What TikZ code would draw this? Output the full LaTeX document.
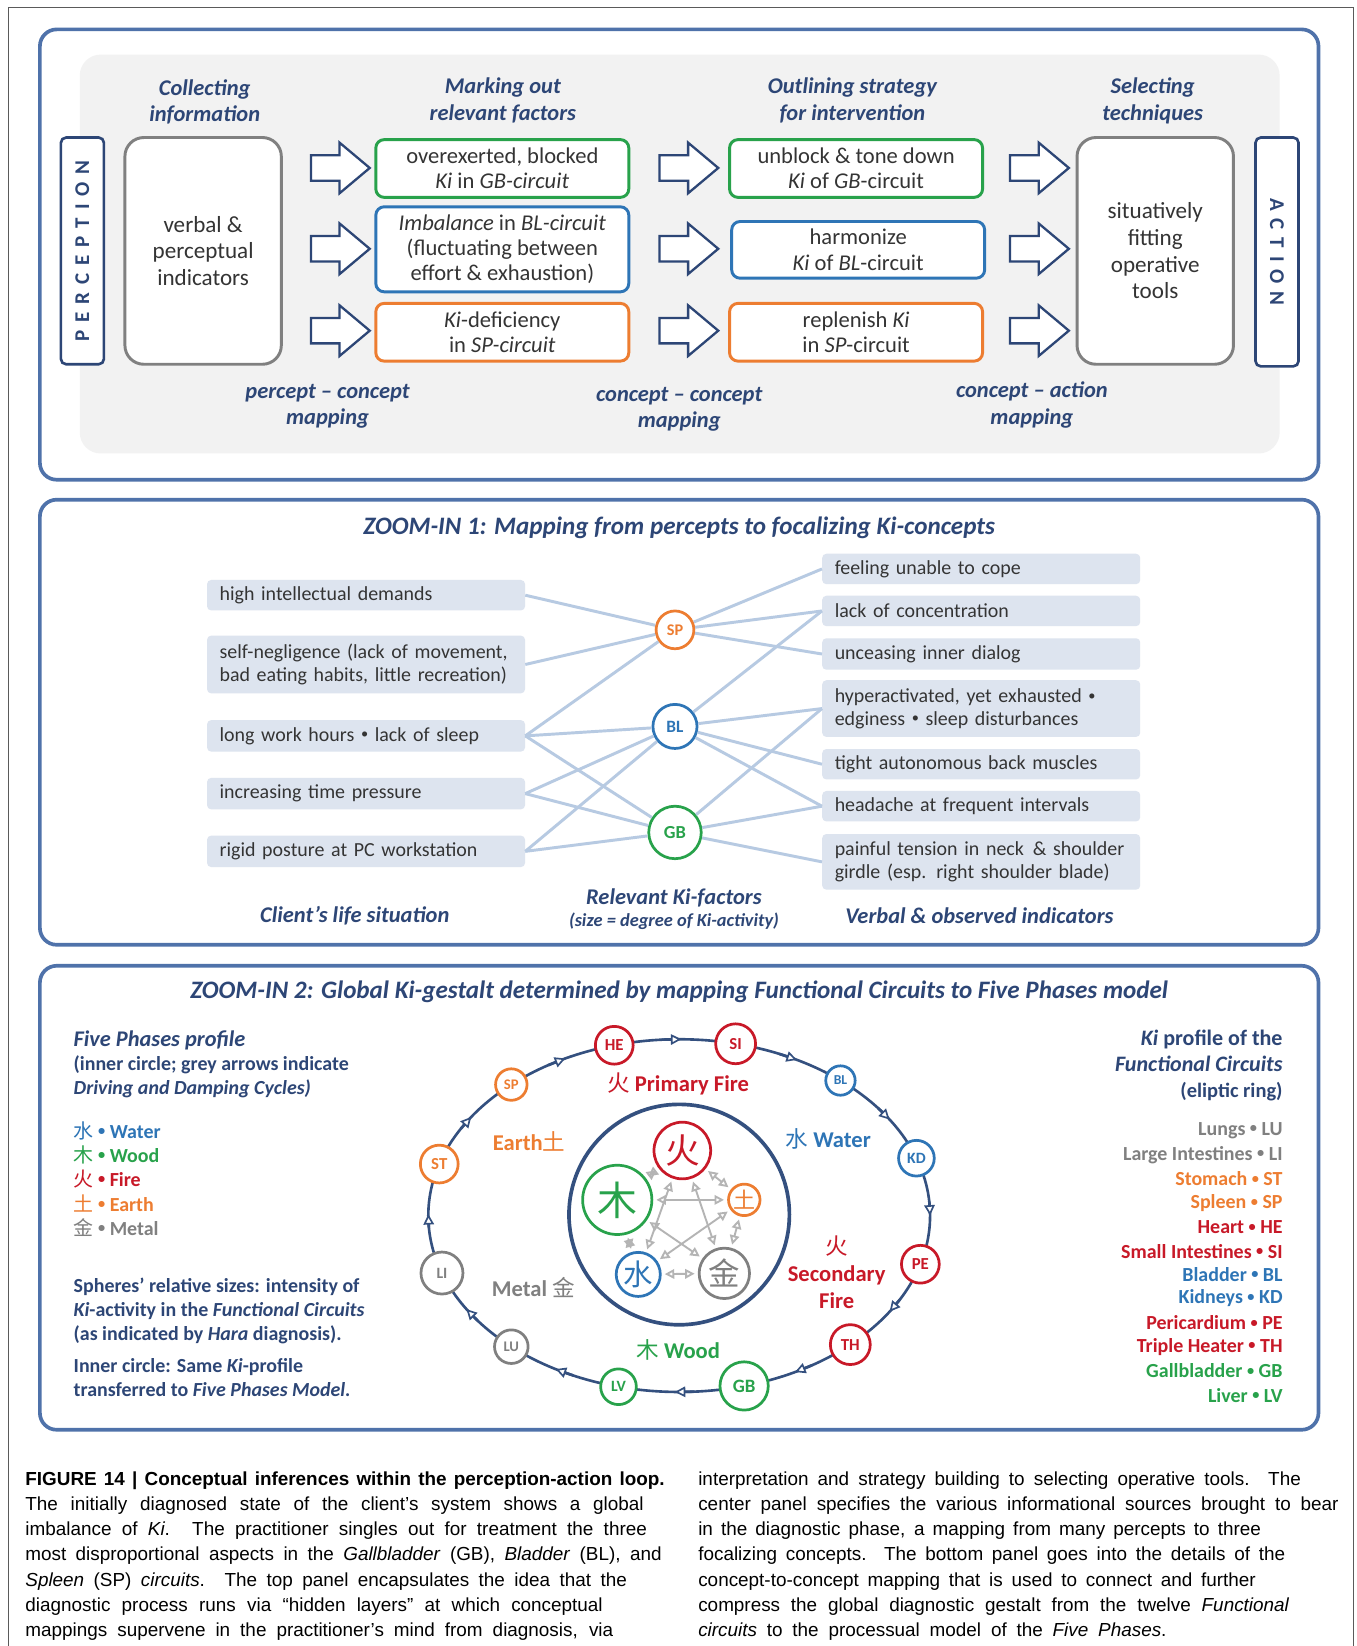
\documentclass[tikz,border=0pt]{standalone}
\usepackage{fontspec}
\setmainfont{Carlito}
\newfontfamily\cjk{Noto Sans CJK SC}
\newfontfamily\capfont{Liberation Sans}
\usetikzlibrary{shapes.arrows,arrows.meta}
\definecolor{panelblue}{RGB}{79,114,170}
\definecolor{navy}{RGB}{45,70,118}
\definecolor{txtgray}{RGB}{52,52,52}
\definecolor{bggray}{RGB}{242,242,242}
\definecolor{boxfill}{RGB}{221,228,239}
\definecolor{linkc}{RGB}{183,202,226}
\definecolor{cred}{RGB}{200,25,40}
\definecolor{corange}{RGB}{237,125,49}
\definecolor{cblue}{RGB}{46,117,182}
\definecolor{cgreen}{RGB}{40,162,75}
\definecolor{cgray}{RGB}{128,128,128}
\definecolor{ringc}{RGB}{52,80,127}
\definecolor{arrgray}{RGB}{180,180,180}
\definecolor{framegray}{RGB}{90,90,90}
\newcommand\fs[2]{\fontsize{#1}{#2}\selectfont}
\newcommand\zh[1]{{\cjk\mdseries\upshape #1}}
\newcommand\ls{\hspace{7.5pt}}
\newcommand\bul{\raisebox{0.12em}{\scalebox{0.72}{\textbullet}}}
\newcommand\capl[5]{\node[anchor=base west, inner sep=0pt, font=\capfont\fs{18}{24}] (#1) at (#2,#3) {\makebox[#4pt][s]{#5}};}
\tikzset{
  panel/.style={draw=panelblue, line width=3.5pt, rounded corners=16pt},
  colhead/.style={font=\fs{21.4}{25.5}\bfseries\itshape, text=navy, align=center, inner sep=0pt},
  tbox/.style={draw=#1, line width=2.8pt, rounded corners=8pt, fill=white, text=txtgray, align=center, font=\fs{21.5}{24}, minimum width=241pt, inner sep=0pt},
  sidebox/.style={draw=navy, line width=2.5pt, rounded corners=5pt, fill=white, inner sep=0pt, text=navy, font=\fs{20}{20}\bfseries},
  bigbox/.style={draw=cgray, line width=2.8pt, rounded corners=18pt, fill=white, minimum width=149pt, minimum height=216pt, text=txtgray, align=center, font=\fs{22}{25.5}, inner sep=0pt},
  barrow/.style={single arrow, draw=navy, line width=2.2pt, fill=white, minimum height=56pt, inner xsep=0pt, inner ysep=11pt, single arrow head extend=12pt, single arrow tip angle=80},
  lbox/.style={fill=boxfill, rounded corners=4pt, text width=279pt, inner xsep=12pt, inner ysep=0pt, align=left, text=txtgray, font=\fs{19}{21.5}, anchor=west},
  kcirc/.style={circle, draw=#1, text=#1, line width=2.6pt, fill=white, inner sep=0pt, font=\fs{15.5}{15.5}\bfseries},
  lnk/.style={draw=linkc, line width=2.8pt},
  ztitle/.style={font=\fs{23.9}{27}\bfseries\itshape, text=navy, inner sep=0pt},
  leg/.style={anchor=west, inner sep=0pt, font=\fs{19}{23}\bfseries, align=left},
  legr/.style={anchor=east, inner sep=0pt, font=\fs{19}{22.9}\bfseries, align=right},
  ringpath/.style={draw=ringc, line width=2.5pt},
  rtip/.style={-{Triangle[length=10pt,width=10pt,fill=white,line width=1.6pt]}},
  rnode/.style={circle, draw=#1, text=#1, line width=2.6pt, fill=white, inner sep=0pt},
  garr/.style={draw=arrgray, line width=1.8pt, {Triangle[open,length=9pt,width=9pt]}-{Triangle[open,length=9pt,width=9pt]}, shorten <=3pt, shorten >=3pt},
  ringlab/.style={font=\fs{21.5}{25.5}\bfseries, align=center, inner sep=0pt},
}
\begin{document}
\begin{tikzpicture}[x=1pt,y=-1pt]
\useasboundingbox (0,0) rectangle (1292,1568);
\fill[white] (0,0) rectangle (1292,1568);
\draw[line width=1pt, framegray] (8,1568) -- (8,7.5) -- (1289,7.5) -- (1289,1568);

% ===== Panel 1 =====
\draw[panel] (38,28) rectangle (1256,457);
\fill[bggray, rounded corners=20pt] (76,52) rectangle (1219,432);

\node[colhead] (h1) at (195,97) {Collecting\\information};
\node[colhead] (h2) at (479,96) {Marking out\\relevant factors};
\node[colhead] (h3) at (812,96) {Outlining strategy\\for intervention};
\node[colhead] (h4) at (1098,96) {Selecting\\techniques};

\node[sidebox, rotate=90, minimum width=216pt, minimum height=41pt] (perc) at (78.5,239) {P\ls E\ls R\ls C\ls E\ls P\ls T\ls I\ls O\ls N};
\node[sidebox, rotate=-90, minimum width=218pt, minimum height=41pt] (act) at (1216.5,240) {A\ls C\ls T\ls I\ls O\ls N};

\node[bigbox] (verb) at (193.5,239) {verbal \&\\perceptual\\indicators};
\node[bigbox] (situ) at (1100.5,239) {situatively\\fitting\\operative\\tools};

\node[tbox=cgreen, minimum height=55pt] (g1) at (478.5,160.5) {overexerted, blocked\\\textit{Ki} in \textit{GB-circuit}};
\node[tbox=cblue, minimum height=81pt] (b1) at (478.5,237.5) {\textit{Imbalance} in \textit{BL-circuit}\\(fluctuating between\\effort \& exhaustion)};
\node[tbox=corange, minimum height=55pt] (o1) at (478.5,316.5) {\textit{Ki}-deficiency\\in \textit{SP-circuit}};
\node[tbox=cgreen, minimum height=55pt] (g2) at (815.5,160.5) {unblock \& tone down\\\textit{Ki} of \textit{GB}-circuit};
\node[tbox=cblue, minimum height=54pt] (b2) at (817.5,238) {harmonize\\\textit{Ki} of \textit{BL}-circuit};
\node[tbox=corange, minimum height=55pt] (o2) at (815.5,316.5) {replenish \textit{Ki}\\in \textit{SP}-circuit};

\node[barrow] (a11) at (317,160) {};
\node[barrow] (a12) at (317,237) {};
\node[barrow] (a13) at (317,315) {};
\node[barrow] (a21) at (649,160) {};
\node[barrow] (a22) at (649,237) {};
\node[barrow] (a23) at (649,315) {};
\node[barrow] (a31) at (983,160) {};
\node[barrow] (a32) at (983,237) {};
\node[barrow] (a33) at (983,315) {};

\node[colhead] (m1) at (312,387) {percept -- concept\\mapping};
\node[colhead] (m2) at (647,390) {concept -- concept\\mapping};
\node[colhead] (m3) at (983,386) {concept -- action\\mapping};

% ===== Panel 2 =====
\draw[panel] (38,476) rectangle (1256,900);
\node[ztitle] (t1) at (647,503) {ZOOM-IN 1: Mapping from percepts to focalizing Ki-concepts};

\node[lbox, minimum height=29pt] (l1) at (197,567) {high intellectual demands};
\node[lbox, minimum height=55pt] (l2) at (197,633) {\mbox{self-negligence (lack of movement,}\\\mbox{bad eating habits, little recreation)}};
\node[lbox, minimum height=30pt] (l3) at (197,701) {long work hours \bul\ lack of sleep};
\node[lbox, minimum height=30pt] (l4) at (197,756) {increasing time pressure};
\node[lbox, minimum height=30pt] (l5) at (197,811) {rigid posture at PC workstation};

\node[lbox, minimum height=29pt] (r1) at (783,542) {feeling unable to cope};
\node[lbox, minimum height=29pt] (r2) at (783,582) {lack of concentration};
\node[lbox, minimum height=30pt] (r3) at (783,623) {unceasing inner dialog};
\node[lbox, minimum height=54pt] (r4) at (783,675) {\mbox{hyperactivated, yet exhausted \bul}\\\mbox{edginess \bul\ sleep disturbances}};
\node[lbox, minimum height=29pt] (r5) at (783,728) {tight autonomous back muscles};
\node[lbox, minimum height=29pt] (r6) at (783,768) {headache at frequent intervals};
\node[lbox, minimum height=53pt] (r7) at (783,821) {\mbox{painful tension in neck\hspace{0.45em}\& shoulder}\\\mbox{girdle (esp. right shoulder blade)}};

\node[kcirc=corange, minimum size=36pt] (mSP) at (643,600) {SP};
\node[kcirc=cblue, minimum size=42pt, font=\fs{16.5}{16.5}\bfseries] (mBL) at (643,692) {BL};
\node[kcirc=cgreen, minimum size=50pt, font=\fs{17.5}{17.5}\bfseries] (mGB) at (643,793) {GB};

\foreach \a/\b in {l1/mSP, l2/mSP, l3/mSP, l3/mBL, l3/mGB, l4/mBL, l4/mGB, l5/mBL, l5/mGB}
  \draw[lnk] (\a.east) -- (\b);
\foreach \a/\b in {mSP/r1, mSP/r2, mSP/r3, mBL/r2, mBL/r4, mBL/r5, mBL/r6, mGB/r4, mGB/r6, mGB/r7}
  \draw[lnk] (\a) -- (\b.west);

\node[colhead] (c1) at (338,872) {Client’s life situation};
\node[colhead] (c2) at (642,855) {Relevant Ki-factors};
\node[colhead, font=\fs{17.5}{18}\bfseries\itshape] (c3) at (642,878) {(size = degree of Ki-activity)};
\node[colhead] (c4) at (933,872) {Verbal \& observed indicators};

% ===== Panel 3 =====
\draw[panel] (38,920) rectangle (1256,1362);
\node[ztitle] (t2) at (647,945) {ZOOM-IN 2: Global Ki-gestalt determined by mapping Functional Circuits to Five Phases model};

\node[leg, font=\fs{21.3}{24}\bfseries\itshape, text=navy] (fp1) at (70,991) {Five Phases profile};
\node[leg, font=\fs{19}{23}\bfseries, text=navy] (fp2) at (70,1025.5) {(inner circle; grey arrows indicate\\\textit{Driving and Damping Cycles)}};
\node[leg, text=cblue] (e1) at (70,1077) {\zh{水} \bul\ Water};
\node[leg, text=cgreen] (e2) at (70,1100) {\zh{木} \bul\ Wood};
\node[leg, text=cred] (e3) at (70,1123) {\zh{火} \bul\ Fire};
\node[leg, text=corange] (e4) at (70,1146) {\zh{土} \bul\ Earth};
\node[leg, text=cgray] (e5) at (70,1169) {\zh{金} \bul\ Metal};
\node[leg, font=\fs{19}{23}\bfseries, text=navy] (sp1) at (70,1249) {Spheres’ relative sizes: intensity of\\\textit{Ki}-activity in the \textit{Functional Circuits}\\(as indicated by \textit{Hara} diagnosis).};
\node[leg, font=\fs{19}{23}\bfseries, text=navy] (sp2) at (70,1312.5) {Inner circle: Same \textit{Ki}-profile\\transferred to \textit{Five Phases Model.}};

\node[legr, font=\fs{21}{25}\bfseries, text=navy] (kp) at (1222,1015) {\textit{Ki} profile of the\\\textit{Functional Circuits}\\{\fs{19.5}{25}(eliptic ring)}};
\node[legr, text=cgray] (f1) at (1222,1077) {Lungs \bul\ LU};
\node[legr, text=cgray] (f2) at (1222,1100) {Large Intestines \bul\ LI};
\node[legr, text=corange] (f3) at (1222,1123) {Stomach \bul\ ST};
\node[legr, text=corange] (f4) at (1222,1146) {Spleen \bul\ SP};
\node[legr, text=cred] (f5) at (1222,1169) {Heart \bul\ HE};
\node[legr, text=cred] (f6) at (1222,1192) {Small Intestines \bul\ SI};
\node[legr, text=cblue] (f7) at (1222,1214) {Bladder \bul\ BL};
\node[legr, text=cblue] (f8) at (1222,1237) {Kidneys \bul\ KD};
\node[legr, text=cred] (f9) at (1222,1260) {Pericardium \bul\ PE};
\node[legr, text=cred] (f10) at (1222,1283) {Triple Heater \bul\ TH};
\node[legr, text=cgreen] (f11) at (1222,1306) {Gallbladder \bul\ GB};
\node[legr, text=cgreen] (f12) at (1222,1329) {Liver \bul\ LV};

% elliptic ring
\draw[ringpath] (647,1158) ellipse [x radius=239, y radius=168];
\foreach \t in {91,63.5,34.5,1.5,-31.5,-61,-89.5,-118,-146.5,181,147.5,118.5}
  \draw[ringpath, rtip] ({647+239*cos(\t+3)},{1158-168*sin(\t+3)}) -- ({647+239*cos(\t-1.5)},{1158-168*sin(\t-1.5)});
\foreach \n/\t/\d/\c/\f in {HE/105/36/cred/16, SI/77/38/cred/16, BL/50/28/cblue/13, KD/19/34/cblue/15, PE/-16/36/cred/16, TH/-47/38/cred/16, GB/-75/46/cgreen/18, LV/-104/34/cgreen/15, LU/-132/32/cgray/14, LI/-161/40/cgray/15, ST/163/36/corange/16, SP/132/30/corange/14}
  \node[rnode=\c, minimum size=\d pt, font=\fs{\f}{\f}\bfseries] (r\n) at ({647+239*cos(\t)},{1158-168*sin(\t)}) {\n};

\node[ringlab, text=cred] (lf1) at (646,1033) {\zh{火} Primary Fire};
\node[ringlab, text=corange] (lea) at (504,1087) {Earth\zh{土}};
\node[ringlab, text=cblue] (lwa) at (789,1085) {\zh{水} Water};
\node[ringlab, text=cgray] (lme) at (508,1226) {Metal \zh{金}};
\node[ringlab, text=cred] (lf2) at (797,1212) {\zh{火}\\Secondary\\Fire};
\node[ringlab, text=cgreen] (lwo) at (646,1286) {\zh{木} Wood};

% inner circle
\draw[draw=ringc, line width=3.5pt] (647,1157) circle (105);
\node[rnode=cred, minimum size=54pt, font=\cjk\fs{33}{33}] (fire) at (650,1096) {火};
\node[rnode=corange, minimum size=30pt, font=\cjk\fs{21}{21}] (earth) at (709,1143) {土};
\node[rnode=cgray, minimum size=48pt, font=\cjk\fs{30}{30}] (metal) at (690,1213) {金};
\node[rnode=cblue, minimum size=42pt, font=\cjk\fs{28}{28}] (water) at (608,1214) {水};
\node[rnode=cgreen, minimum size=66pt, font=\cjk\fs{38}{38}] (wood) at (588,1143) {木};
\foreach \a/\b in {fire/earth, earth/metal, metal/water, water/wood, wood/fire, fire/metal, fire/water, wood/earth, wood/metal, earth/water}
  \draw[garr] (\a) -- (\b);

% ===== Caption =====
\capl{cl1}{24}{1415}{609}{\textbf{FIGURE 14 | Conceptual inferences within the perception-action loop.}}
\capl{cl2}{24}{1439}{589}{The initially diagnosed state of the client’s system shows a global}
\capl{cl3}{24}{1463}{592}{imbalance of \textit{Ki}. The practitioner singles out for treatment the three}
\capl{cl4}{24}{1487}{606}{most disproportional aspects in the \textit{Gallbladder} (GB), \textit{Bladder} (BL), and}
\capl{cl5}{24}{1511}{573}{\textit{Spleen} (SP) \textit{circuits}. The top panel encapsulates the idea that the}
\capl{cl6}{24}{1535}{550}{diagnostic process runs via “hidden layers” at which conceptual}
\capl{cl7}{24}{1559}{560}{mappings supervene in the practitioner’s mind from diagnosis, via}
\capl{cr1}{665}{1415}{574}{interpretation and strategy building to selecting operative tools. The}
\capl{cr2}{665}{1439}{610}{center panel specifies the various informational sources brought to bear}
\capl{cr3}{665}{1463}{536}{in the diagnostic phase, a mapping from many percepts to three}
\capl{cr4}{665}{1487}{559}{focalizing concepts. The bottom panel goes into the details of the}
\capl{cr5}{665}{1511}{531}{concept-to-concept mapping that is used to connect and further}
\capl{cr6}{665}{1535}{563}{compress the global diagnostic gestalt from the twelve \textit{Functional}}
\capl{cr7}{665}{1559}{446}{\textit{circuits} to the processual model of the \textit{Five Phases}.}
\end{tikzpicture}
\end{document}
